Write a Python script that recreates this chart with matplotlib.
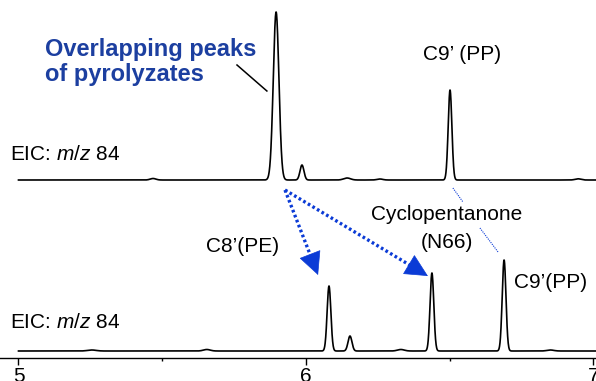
import numpy as np
import matplotlib
matplotlib.use("Agg")
import matplotlib.pyplot as plt

plt.rcParams["font.family"] = ["Liberation Sans", "DejaVu Sans"]
plt.rcParams["mathtext.fontset"] = "custom"
plt.rcParams["mathtext.rm"] = "Liberation Sans"
plt.rcParams["mathtext.it"] = "Liberation Sans:italic"

# peak tables: retention time (min), height, width (sigma, min)
top_rt = [5.468, 5.896, 5.986, 6.143, 6.257, 6.501, 6.946]
top_h = [1.5, 168, 15, 2, 1, 90, 1.2]
top_w = [0.010, 0.0098, 0.0068, 0.012, 0.010, 0.0064, 0.010]

bot_rt = [5.255, 5.655, 6.080, 6.153, 6.330, 6.438, 6.689, 6.85]
bot_h = [1.0, 1.5, 65, 15, 1.5, 78, 91, 1.0]
bot_w = [0.015, 0.012, 0.0065, 0.0068, 0.012, 0.0065, 0.0065, 0.012]

TOP_BASE = 201
BOT_BASE = 30
RT_MIN, RT_MAX = 5.0, 7.01
x_ticks = [5, 6, 7]
x_minor = [5.5, 6.5]

BLUE_TXT = "#1c3fa0"
BLUE_ARR = "#0b3bd6"


def trace(rt, h, w, x):
    y = np.zeros_like(x)
    for c, a, s in zip(rt, h, w):
        y += a * np.exp(-0.5 * ((x - c) / s) ** 2)
    return y


x = np.linspace(RT_MIN, RT_MAX, 4000)

fig = plt.figure(figsize=(5.96, 3.81), dpi=100)
ax = fig.add_axes([0, 0, 1, 1])
ax.set_xlim(4.9357, 7.0087)
ax.set_ylim(0, 381)

ax.plot(x, TOP_BASE + trace(top_rt, top_h, top_w, x), color="black", lw=1.2)
ax.plot(x, BOT_BASE + trace(bot_rt, bot_h, bot_w, x), color="black", lw=1.2)

for s in ["left", "right", "top"]:
    ax.spines[s].set_visible(False)
ax.spines["bottom"].set_position(("data", 23.3))
ax.spines["bottom"].set_linewidth(1.0)
ax.set_yticks([])
ax.set_xticks(x_ticks)
ax.set_xticks(x_minor, minor=True)
ax.tick_params(axis="x", which="major", length=5, width=1, labelsize=15, pad=2)
ax.tick_params(axis="x", which="minor", length=2.3, width=1)

fs = 15
ax.text(4.970, 226, "EIC: $m/z$ 84", fontsize=fs, va="center", ha="left")
ax.text(4.970, 58, "EIC: $m/z$ 84", fontsize=fs, va="center", ha="left")
ax.text(5.092, 319, "Overlapping peaks\nof pyrolyzates", fontsize=17, fontweight="bold",
        color=BLUE_TXT, va="center", ha="left", linespacing=1.15)
ax.plot([5.760, 5.864], [316, 290], color="black", lw=1.1)

ax.text(6.543, 326, "C9\u2019 (PP)", fontsize=fs, ha="center", va="center")
ax.text(5.781, 134, "C8\u2019(PE)", fontsize=fs, ha="center", va="center")
ax.text(6.490, 166, "Cyclopentanone", fontsize=fs, ha="center", va="center")
ax.text(6.490, 139, "(N66)", fontsize=fs, ha="center", va="center")
ax.text(6.852, 99, "C9\u2019(PP)", fontsize=fs, ha="center", va="center")

# thin dotted leader, broken by the Cyclopentanone label
ax.plot([6.511, 6.546], [193, 179], color=BLUE_ARR, lw=0.8, ls=(0, (1, 1)))
ax.plot([6.605, 6.668], [153, 129], color=BLUE_ARR, lw=0.8, ls=(0, (1, 1)))

# dotted arrows: dotted shaft + solid head
start = np.array([5.927, 191.0])
to_px = np.array([287.5, 1.0])
for tip in [(6.042, 106), (6.424, 105)]:
    tip = np.array(tip, dtype=float)
    d = (tip - start) * to_px
    u = d / np.hypot(*d)
    back = tip - 14 * u / to_px
    ax.plot([start[0], back[0]], [start[1], back[1]], color=BLUE_ARR, lw=2.4,
            ls=(0, (0.8, 0.8)), solid_capstyle="butt")
    ax.annotate("", xy=tip, xytext=back,
                arrowprops=dict(arrowstyle="-|>,head_length=0.85,head_width=0.42",
                                color=BLUE_ARR, lw=0.5, shrinkA=0, shrinkB=0,
                                mutation_scale=18))

fig.savefig("out.png", dpi=100)
